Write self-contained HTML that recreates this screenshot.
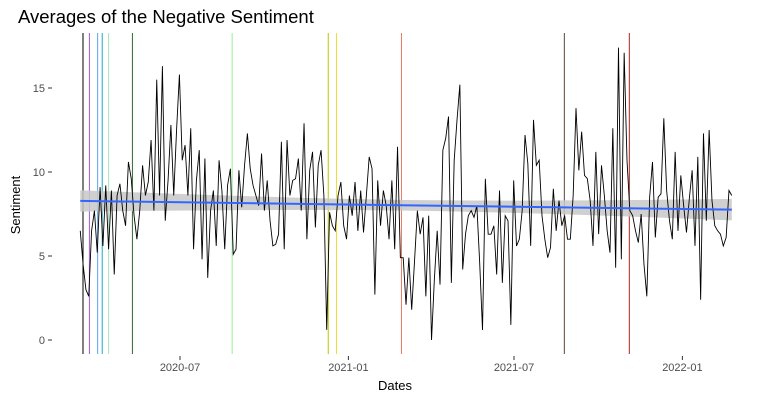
<!DOCTYPE html>
<html><head><meta charset="utf-8"><style>
html,body{margin:0;padding:0;background:#fff;}
svg{display:block;font-family:"Liberation Sans",sans-serif;}
</style></head><body>
<svg id="chart" width="773" height="401" viewBox="0 0 773 401">
<text x="18" y="23" font-size="18.5" fill="#000">Averages of the Negative Sentiment</text>
<g id="events"></g>
<g id="band"></g>
<g id="series"></g>
<g id="trend"></g>
<g id="yaxis"></g>
<g id="xaxis"></g>
<text x="20" y="205" font-size="13" fill="#000" text-anchor="middle" transform="rotate(-90 20 205)">Sentiment</text>
<text x="395" y="390" font-size="13" fill="#000" text-anchor="middle">Dates</text>
</svg>
<script>
// Data: days since 2020-03-01 (start day and step), sentiment values
const startDay = 13;
const endDay = 725;
const values = [6.5,4.5,3,2.6,6.5,7.7,5.2,9.1,5.6,9.2,5.4,8.9,3.9,8.6,9.3,7.7,6.8,10.6,9.6,7.4,6,7.7,10.4,8.6,9.4,11.9,7.7,15.5,8.6,16.3,7.1,9.5,12.8,8.6,12.5,15.8,10.7,11.6,8.6,12.6,5.4,9.5,11.3,4.8,10.8,3.7,7.7,8.9,5.6,10.7,8.9,5.4,9.2,10.2,5.1,5.4,10.1,7.9,10.4,
12.3,10.2,9.2,8.6,8,11.1,7.7,9.5,7.1,5.6,5.7,6.3,11.8,5.4,11.9,8.6,9.5,9.6,10.8,7.7,12.9,6,10.1,11.2,6.7,10.4,11.3,8.6,0.6,7.6,6.8,6.5,8.6,9.4,6.8,6,8.6,7.4,9.4,6.5,8.9,6.4,8.6,10.9,10.2,2.7,9.5,6.8,8.9,8,6,9.5,5.4,11.5,4.9,4.9,2.1,
4.9,1.8,4.7,7.7,6.3,7.3,2.6,7.4,0,3.6,6.5,3.3,11.3,12,13.3,3.4,10.7,13.1,15.2,4.2,6.3,7.4,7.7,7.3,8,4.6,0.6,9.6,6.3,6.3,6.8,3.9,8.9,3.4,7.4,7.1,0.9,9.5,5.6,6,7.7,12.2,10.5,5.6,13.1,10.4,10.7,7.4,6,4.9,5.5,9,6.5,8.3,6.8,7.4,6,
6,8.6,13.8,10.1,12.4,9.8,9.6,8.3,5.6,11.2,6.3,10.4,8.6,6.5,5.2,12.6,4.3,17.4,4.8,17.1,10.7,7.7,7.4,6.5,5.8,7.5,4.5,2.6,8.5,10.6,6.1,8.5,8.7,13.2,8.9,7.1,6,11.2,6.5,9.8,8,6.4,8.4,10.1,5.6,10.9,2.4,12.3,7.1,12.5,8.3,6.8,6.5,6.3,5.6,6.1,8.9,8.6];
const eventDays = [16,23,32,37,44,70,179,284,293,364,542,613];
const eventColors = ["#000000","#a05ad0","#5aa0f0","#20a8c0","#a8e0b8","#2a6e2a","#98ee98","#b8c800","#ece030","#e87860","#5a4636","#b02020"];
const yTicks = [0,5,10,15];
const xTickDays = [122,306,487,671];
const xTickLabels = ["2020-07","2021-01","2021-07","2022-01"];

const NS="http://www.w3.org/2000/svg";
const X = d => 180 + (d-122)*0.9151;
const Y = v => 340 - v*16.8;
const TOP=33, BOT=354;
function mk(tag, attrs, parent){const e=document.createElementNS(NS,tag);for(const k in attrs)e.setAttribute(k,attrs[k]);parent.appendChild(e);return e;}
const n = values.length;
const days = values.map((_,i)=> startDay + i*(endDay-startDay)/(n-1));

const ev=document.getElementById('events');
eventDays.forEach((d,i)=>{
  const l=mk('line',{x1:X(d),x2:X(d),y1:TOP,y2:BOT,stroke:eventColors[i],'stroke-width':1},ev);
  
  
});

let mx=0,my=0;days.forEach((d,i)=>{mx+=d;my+=values[i];});mx/=n;my/=n;
let sxx=0,sxy=0;days.forEach((d,i)=>{sxx+=(d-mx)**2;sxy+=(d-mx)*(values[i]-my);});
const b=sxy/sxx,a=my-b*mx;
let rss=0;days.forEach((d,i)=>{rss+=(values[i]-a-b*d)**2;});
const s=Math.sqrt(rss/(n-2));
const up=[],lo=[];
for(let k=0;k<=40;k++){const d=startDay+k*(endDay-startDay)/40;const f=a+b*d;const se=1.6*s*Math.sqrt(1/n+(d-mx)**2/sxx);up.push(X(d)+','+Y(f+se));lo.unshift(X(d)+','+Y(f-se));}
const band=mk('polygon',{points:up.concat(lo).join(' '),fill:'#c8c8c8','fill-opacity':0.85},document.getElementById('band'));



const line=mk('polyline',{points:days.map((d,i)=>X(d)+','+Y(values[i])).join(' '),fill:'none',stroke:'#000','stroke-width':0.9},document.getElementById('series'));



const tl=mk('line',{x1:X(startDay),x2:X(endDay),y1:Y(a+b*startDay),y2:Y(a+b*endDay),stroke:'#3366ff','stroke-width':2},document.getElementById('trend'));



const ya=document.getElementById('yaxis');
yTicks.forEach(v=>{
  const t=mk('text',{x:45,y:Y(v)+4,'font-size':11,fill:'#4d4d4d','text-anchor':'end'},ya);t.textContent=v;
  
  
  const tk=mk('line',{x1:48,x2:52,y1:Y(v),y2:Y(v),stroke:'#333','stroke-width':1},ya);
  
  
});
const xa=document.getElementById('xaxis');
xTickDays.forEach((d,i)=>{
  const tk=mk('line',{x1:X(d),x2:X(d),y1:356,y2:360,stroke:'#333','stroke-width':1},xa);
  
  
  const t=mk('text',{x:X(d),y:371,'font-size':11,fill:'#4d4d4d','text-anchor':'middle'},xa);t.textContent=xTickLabels[i];
  
  
});
</script>
</body></html>
